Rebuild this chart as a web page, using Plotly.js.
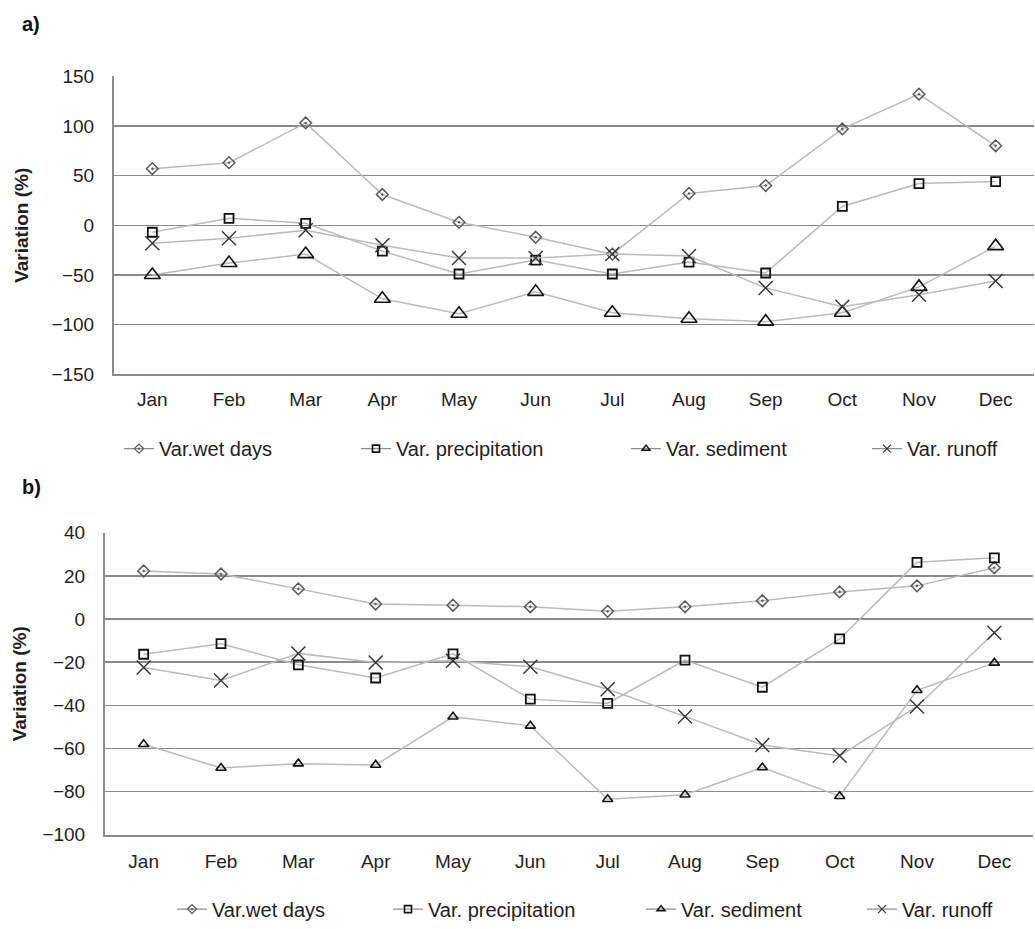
<!DOCTYPE html>
<html>
<head>
<meta charset="utf-8">
<script src="https://cdn.plot.ly/plotly-3.0.1.min.js"></script>
<style>
  html, body { margin: 0; padding: 0; background: #fff; }
  #chart { width: 1035px; height: 929px; }
</style>
</head>
<body>
<div id="chart"></div>
<script>
// ---- Data ----
const months = ["Jan", "Feb", "Mar", "Apr", "May", "Jun", "Jul", "Aug", "Sep", "Oct", "Nov", "Dec"];
const seriesNames = ["Var.wet days", "Var. precipitation", "Var. sediment", "Var. runoff"];

// Panel a)
const aWetDays      = [57, 63, 103, 31, 3, -12, -29, 32, 40, 97, 132, 80];
const aPrecip       = [-7, 7, 2, -26, -49, -35, -49, -37, -48, 19, 42, 44];
const aSediment     = [-50, -38, -29, -74, -89, -67, -88, -94, -97, -88, -62, -21];
const aRunoff       = [-18, -13, -5, -20, -33, -33, -29, -31, -63, -82, -70, -56];

// Panel b)
const bWetDays      = [22.3, 20.9, 14, 7, 6.4, 5.7, 3.6, 5.7, 8.5, 12.6, 15.4, 23.8];
const bPrecip       = [-16.3, -11.4, -21.2, -27.3, -16.1, -37.1, -39.1, -19, -31.6, -9.2, 26.3, 28.4];
const bSediment     = [-58, -69, -67, -67.6, -45.3, -49.5, -83.5, -81.4, -68.8, -82.1, -33, -20.3];
const bRunoff       = [-22.4, -28.5, -15.9, -20.1, -19.3, -22.1, -32.5, -45.1, -58.4, -63.4, -40.5, -6.3];

const yTicksA = [-150, -100, -50, 0, 50, 100, 150];
const yTicksB = [-100, -80, -60, -40, -20, 0, 20, 40];

// ---- Styles ----
const W = 1035, H = 929;
const FONT = "Liberation Sans, Arial, sans-serif";
const LINE_COL = "#bababa";
const GRID_COL = "#8a8a8a";
const TXT_COL = "#1e1e24";

function markerStyle(idx, panel, legendOnly) {
  if (legendOnly) {
    if (idx === 0) return { symbol: "diamond-open-dot", size: 7, color: "#5a5a5a", line: { width: 1.3, color: "#5a5a5a" } };
    if (idx === 1) return { symbol: "square-open", size: 7, color: "#111", line: { width: 1.6, color: "#111" } };
    if (idx === 2) return { symbol: "triangle-up-open", size: 7, color: "#111", line: { width: 1.5, color: "#111" } };
    return { symbol: "x-thin-open", size: 8, color: "#333", line: { width: 1.2, color: "#333" } };
  }
  if (idx === 0) return { symbol: "diamond-open-dot", size: 9, color: "#5a5a5a", line: { width: 1.5, color: "#5a5a5a" } };
  if (idx === 1) return { symbol: "square-open", size: 9, color: "#111", line: { width: 1.8, color: "#111" } };
  if (idx === 2) return { symbol: "triangle-up-open", size: panel === "a" ? 14 : 9, color: "#111", line: { width: 1.6, color: "#111" } };
  return { symbol: "x-thin-open", size: 14, color: "#333", line: { width: 1.4, color: "#333" } };
}

const dataA = [aWetDays, aPrecip, aSediment, aRunoff];
const dataB = [bWetDays, bPrecip, bSediment, bRunoff];

// legend anchor positions (px) and centers (px from top)
const legStartA = [119, 356, 626, 867];
const legStartB = [172, 388, 641, 862];
const legYA = 453, legYB = 918;

const traces = [];
function addPanel(dataSets, xa, ya, panel, legOffset) {
  dataSets.forEach((vals, i) => {
    traces.push({
      type: "scatter", mode: "lines+markers",
      x: months, y: vals, name: seriesNames[i],
      xaxis: xa, yaxis: ya,
      line: { color: LINE_COL, width: 1.5 },
      marker: markerStyle(i, panel, false),
      showlegend: false,
      cliponaxis: false
    });
  });
  // legend entries (no data, small symbols like the original)
  dataSets.forEach((vals, i) => {
    const n = i + legOffset;
    traces.push({
      type: "scatter", mode: "lines+markers",
      x: [null], y: [null], name: seriesNames[i],
      xaxis: xa, yaxis: ya,
      line: { color: "#8f8f8f", width: 1.3 },
      marker: markerStyle(i, panel, true),
      showlegend: true,
      legend: n === 1 ? "legend" : "legend" + n
    });
  });
}
addPanel(dataA, "x", "y", "a", 1);
addPanel(dataB, "x2", "y2", "b", 5);

function px2x(p) { return p / W; }
function py2y(p) { return 1 - p / H; }

const tickFont = { family: FONT, size: 19, color: TXT_COL };
const legFont = { family: FONT, size: 20, color: TXT_COL };
const titleFont = { family: FONT, size: 19, color: TXT_COL };

const layout = {
  width: W, height: H,
  margin: { l: 0, r: 0, t: 0, b: 0 },
  paper_bgcolor: "#fff", plot_bgcolor: "#fff",
  font: { family: FONT, color: TXT_COL },
  xaxis: {
    domain: [px2x(114), px2x(1034)], anchor: "y",
    type: "category", range: [-0.5, 11.5], categoryarray: months, categoryorder: "array",
    showgrid: false, showline: true, linecolor: GRID_COL, linewidth: 2,
    ticks: "", tickfont: tickFont, ticklabelstandoff: 7, fixedrange: true
  },
  yaxis: {
    domain: [py2y(378), py2y(77)], anchor: "x",
    range: [-150, 150], tickvals: yTicksA,
    showgrid: true, gridcolor: GRID_COL, gridwidth: 1.5,
    zeroline: false, showline: true, linecolor: GRID_COL, linewidth: 2,
    ticks: "", tickfont: tickFont, ticklabelstandoff: 14,
    title: { text: "<b>Variation (%)</b>", font: titleFont, standoff: 18 }
  },
  xaxis2: {
    domain: [px2x(105), px2x(1033)], anchor: "y2",
    type: "category", range: [-0.5, 11.5], categoryarray: months, categoryorder: "array",
    showgrid: false, showline: true, linecolor: GRID_COL, linewidth: 2,
    ticks: "", tickfont: tickFont, ticklabelstandoff: 8, fixedrange: true
  },
  yaxis2: {
    domain: [py2y(843), py2y(538)], anchor: "x2",
    range: [-100, 40], tickvals: yTicksB,
    showgrid: true, gridcolor: GRID_COL, gridwidth: 1.5,
    zeroline: false, showline: true, linecolor: GRID_COL, linewidth: 2,
    ticks: "", tickfont: tickFont, ticklabelstandoff: 14,
    title: { text: "<b>Variation (%)</b>", font: titleFont, standoff: 11 }
  },
  annotations: [
    { text: "<b>a)</b>", xref: "paper", yref: "paper", x: px2x(20), y: py2y(24), xanchor: "left", yanchor: "middle", showarrow: false, font: { family: FONT, size: 20, color: "#111" } },
    { text: "<b>b)</b>", xref: "paper", yref: "paper", x: px2x(20), y: py2y(492), xanchor: "left", yanchor: "middle", showarrow: false, font: { family: FONT, size: 20, color: "#111" } }
  ],
  showlegend: true
};

function legendCfg(xpx, ypx) {
  return {
    x: px2x(xpx), y: py2y(ypx), xanchor: "left", yanchor: "middle",
    orientation: "h", font: legFont, bgcolor: "rgba(0,0,0,0)", borderwidth: 0,
    itemclick: false, itemdoubleclick: false
  };
}
legStartA.forEach((xp, i) => {
  layout[i === 0 ? "legend" : "legend" + (i + 1)] = legendCfg(xp, legYA);
});
legStartB.forEach((xp, i) => {
  layout["legend" + (i + 5)] = legendCfg(xp, legYB);
});

Plotly.newPlot("chart", traces, layout, { staticPlot: true, displayModeBar: false });
</script>
</body>
</html>
